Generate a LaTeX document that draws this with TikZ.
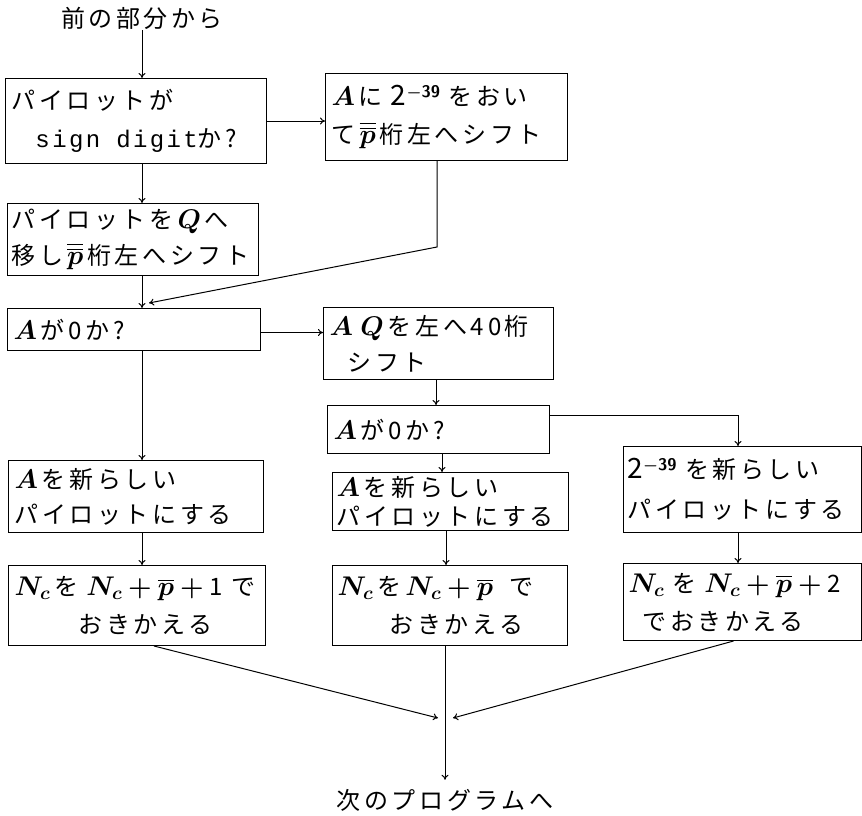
\RequirePackage{fix-cm}
\documentclass[tikz,border=0pt]{standalone}
\usepackage{amsmath,bm}
\usepackage{fontspec}
\setmainfont{Noto Sans CJK JP}[LetterSpace=15]
\newfontfamily\ttsp{Liberation Mono}[LetterSpace=10]
\usetikzlibrary{arrows.meta,calc}
\newcommand\JFsz[1]{\fontsize{24}{#1}\selectfont}
\newcommand\Mth[1]{{\fontsize{27}{30}\selectfont$#1$}}
\newcommand\pp{\,\Mth{\overline{\overline{\bm p}}}\,}
\newcommand\pb{\overline{\bm p}}
\newcommand\Mv[1]{\Mth{\bm{#1}}\,}
\newcommand\Nc{\bm{N}_{\bm c}}
\newcommand\Pl{\mathbin{\bm{+}}}
\newcommand\twoexp{{\fontsize{28}{30}\selectfont 2}$^{\bm{\mathsf{-39}}}$}
\begin{document}
\begin{tikzpicture}[x=1pt,y=-1pt,
  box/.style={draw, line width=1pt, anchor=north west, inner xsep=6pt, inner ysep=0pt, align=left, font=\JFsz{38}},
  arr/.style={line width=1pt, -{To[length=5pt,width=7pt]}},
  lbl/.style={font=\JFsz{30}, inner sep=1pt}]
\useasboundingbox (0,0) rectangle (862,815);
\coordinate (colL) at (142,0);
\node[lbl] (t0) at (142,18) {前の部分から};
\node[box, minimum width=261, minimum height=85, text width=249] (b1) at (5,78)
  {パイロットが\\\hspace*{24pt}{\ttsp sign\hspace{16pt}digit}か?};
\node[box, minimum width=242, minimum height=87, text width=230] (b2) at (325,73)
  {\Mv{A}に \twoexp{} をおい\\て\pp 桁左へシフト};
\node[box, minimum width=251, minimum height=72, text width=243, inner xsep=4pt, font=\JFsz{36}] (b3) at (7,203)
  {パイロットを\,\Mv{Q}へ\\移し\pp 桁左へシフト};
\node[box, minimum width=253, minimum height=42, text width=241] (b4) at (7,308)
  {\Mv{A}が0か?};
\node[box, minimum width=230, minimum height=72, text width=218, font=\JFsz{36}] (b5) at (323,307)
  {\Mth{\bm{A}\;\bm{Q}}\,を左へ4\,0桁\\\hspace*{18pt}シフト};
\node[box, minimum width=222, minimum height=48, text width=210] (b6) at (327,405)
  {\Mv{A}が0か?};
\node[box, minimum width=255, minimum height=72, text width=243, font=\JFsz{35}] (b7) at (8,460)
  {\Mv{A}を新らしい\\パイロットにする};
\node[box, minimum width=236, minimum height=58, text width=228, inner xsep=4pt, font=\JFsz{29}] (b8) at (332,472)
  {\Mv{A}を新らしい\\パイロットにする};
\node[box, minimum width=238, minimum height=86, text width=230, inner xsep=4pt, font=\JFsz{40}] (b9) at (623,446)
  {\twoexp{} を新らしい\\パイロットにする};
\node[box, minimum width=257, minimum height=80, text width=245, inner xsep=4pt] (b10) at (8,565)
  {\Mth{\Nc}\,を \Mth{\Nc\Pl\pb\Pl{}}1 で\\\hspace*{64pt}おきかえる};
\node[box, minimum width=235, minimum height=80, text width=225, inner xsep=5pt] (b11) at (332,565)
  {\Mth{\Nc}\,を\,\Mth{\Nc\Pl\pb}\ \ で\\\hspace*{52pt}おきかえる};
\node[box, minimum width=238, minimum height=77, text width=228, inner xsep=5pt] (b12) at (623,563)
  {\Mth{\Nc}\ を \Mth{\Nc\Pl\pb\Pl{}}2\\\hspace*{14pt}でおきかえる};
\node[lbl] (t1) at (445,800) {次のプログラムへ};
% connectors
\draw[arr] (t0.south) -- (t0.south |- b1.north);
\draw[arr] (b1.east) -- (b1.east -| b2.west);
\draw[arr] (b1.south -| colL) -- (b3.north -| colL);
\coordinate (k1) at (437,247);
\draw[arr] (b2.south -| k1) -- (k1) -- ($(b4.north -| colL)+(7,-5)$);
\draw[arr] (b3.south -| colL) -- (b4.north -| colL);
\draw[arr] ($(b4.east)+(0,3)$) -- ($(b4.east -| b5.west)+(0,3)$);
\draw[arr] (b4.south -| colL) -- (b7.north -| colL);
\draw[arr] (b7.south -| colL) -- (b10.north -| colL);
\coordinate (c5) at (436,0);
\draw[arr] (b5.south -| c5) -- (b6.north -| c5);
\coordinate (c6) at (442,0);
\draw[arr] (b6.south -| c6) -- (b8.north -| c6);
\coordinate (c8) at (446,0);
\draw[arr] (b8.south -| c8) -- (b11.north -| c8);
\coordinate (c9) at (738,0);
\coordinate (k2) at (738,415);
\draw[arr] (k2 -| b6.east) -- (k2) -- (b9.north -| c9);
\draw[arr] (b9.south -| c9) -- (b12.north -| c9);
\coordinate (m) at (445,718);
\draw[arr] ($(b10.south)+(17,0)$) -- ($(m)+(-7,0)$);
\draw[arr] ($(b12.south)+(-9,0)$) -- ($(m)+(8,0)$);
\draw[arr] (b11.south -| m) -- ($(t1.north)+(0,-8)$);
\end{tikzpicture}
\end{document}
